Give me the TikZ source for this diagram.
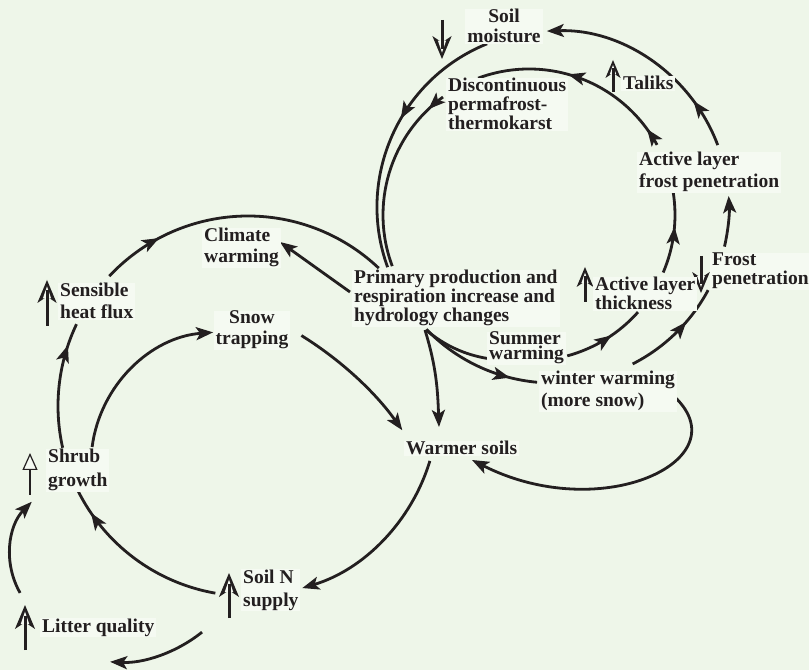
\documentclass[tikz,border=0pt]{standalone}
\usepackage{fontspec}
\setmainfont{Liberation Serif}
\usetikzlibrary{arrows.meta,decorations.markings,calc}
\definecolor{bgc}{RGB}{238,246,233}
\definecolor{boxc}{RGB}{245,250,242}
\definecolor{ink}{RGB}{35,31,32}
\newcommand\lblfont[1]{\bfseries\fontsize{19.5}{#1}\selectfont}
\pgfdeclarelayer{fg}
\pgfsetlayers{main,fg}
\tikzset{
  lbl/.style={font=\lblfont{#1}, text=ink, fill=boxc, inner xsep=2pt, inner ysep=0.4pt, align=left, anchor=base west},
  lbl/.default=20,
  conn/.style={draw=ink, line width=2.8pt},
  >={Stealth[length=17pt,width=13pt,inset=4pt]},
  midarr/.style={postaction={decorate}, decoration={markings, mark=at position #1 with {\arrow{>}}}},
  twomid/.style 2 args={postaction={decorate}, decoration={markings, mark=at position #1 with {\arrow{>}}, mark=at position #2 with {\arrow{>}}}},
  indthin/.style={draw=ink, line width=1.3pt, -{Triangle[length=17pt,width=15pt,fill=boxc,line width=1.2pt]}},
  pics/incr/.style 2 args={code={
    \fill[ink] (0,#1) -- (-0.42*#2,#1-#2) -- (0,#1-0.72*#2) -- (0.42*#2,#1-#2) -- cycle;
    \fill[boxc] (0,#1-0.28*#2) -- (-0.18*#2,#1-0.8*#2) -- (0.18*#2,#1-0.8*#2) -- cycle;
    \draw[ink, line width=3pt] (0,0) -- (0,#1-0.45*#2);
  }},
}
\begin{document}
\begin{tikzpicture}[x=1pt,y=1pt]
\fill[bgc] (0,0) rectangle (809,670);
\useasboundingbox (0,0) rectangle (809,670);

% ---------- labels (anchor = baseline of the last line) ----------
\begin{pgfonlayer}{fg}
\node[lbl=20, align=center, anchor=base] (soilm) at (504,627) {Soil\\moisture};
\node[lbl=19] (disc) at (446,540) {Discontinuous\\permafrost-\\thermokarst};
\node[lbl] (taliks) at (621,580) {Taliks};
\node[lbl=22] (alfp) at (637,482) {Active layer\\frost penetration};
\node[lbl=21] (clim) at (202,407) {Climate\\warming};
\node[lbl=22] (sens) at (58,351) {Sensible\\heat flux};
\node[lbl=21, align=center, anchor=base] (snow) at (252,325) {Snow\\trapping};
\node[lbl=19] (prim) at (352,348) {Primary production and\\respiration increase and\\hydrology changes};
\node[lbl=19] (alt) at (593,360) {Active layer\\thickness};
\node[lbl=19] (frost) at (710,385) {Frost\\penetration};
\node[lbl=15] (summ) at (487,310) {Summer\\warming};
\node[lbl=22] (wint) at (539,263) {winter warming\\(more snow)};
\node[lbl] (warm) at (404,215) {Warmer soils};
\node[lbl=24] (shrub) at (46,183) {Shrub\\growth};
\node[lbl=23] (soiln) at (241,64) {Soil N\\supply};
\node[lbl] (litter) at (40,38) {Litter quality};
\end{pgfonlayer}

% ---------- circle centres and free ends ----------
\coordinate (OC) at (553,463);
\coordinate (IC) at (529,455);
\coordinate (SC) at (507,434);
\coordinate (LC) at (248,264);
\coordinate (C1) at (223,206);
\coordinate (C2) at (117,37);
\coordinate (C5) at (86,115);
\coordinate (C6) at (117,144);
\coordinate (pw1) at (425,340);
\coordinate (pw2) at (439,243);
\coordinate (wl0) at (658,286);
\coordinate (wl1) at (760,220);
\coordinate (wl2) at (610,140);
\coordinate (wl3) at (472,210);
\coordinate (pc0) at (350,378);
\coordinate (pc1) at (280,428);

% ---------- outer right circle ----------
\draw[conn, midarr=0.43] ($(OC)+(112:176)$) arc[start angle=112, end angle=200, radius=176];
\draw[conn, ->, midarr=0.23] ($(OC)+(20.6:176)$) arc[start angle=20.6, end angle=92, radius=176];
\draw[conn, ->] ($(OC)+(-13:176)$) arc[start angle=-13, end angle=3.6, radius=176];
\draw[conn, midarr=0.64] ($(OC)+(-63.1:176)$) arc[start angle=-63.1, end angle=-28.2, radius=176];
\draw[conn, midarr=0.78] ($(OC)+(224:176)$) arc[start angle=224, end angle=264.8, radius=176];

% ---------- inner right circle ----------
\draw[conn, twomid={0.09}{0.56}] ($(IC)+(28.7:146)$) arc[start angle=28.7, end angle=110.4, radius=146];
\draw[conn, midarr=0.1] ($(IC)+(126.1:146)$) arc[start angle=126.1, end angle=200.5, radius=146];
\draw[conn, midarr=0.58] ($(IC)+(-23.2:146)$) arc[start angle=-23.2, end angle=8.7, radius=146];
\draw[conn, midarr=0.58] ($(IC)+(-74.8:146)$) arc[start angle=-74.8, end angle=-41.7, radius=146];
\draw[conn] ($(SC)+(229.6:124)$) arc[start angle=229.6, end angle=261.1, radius=124];

% ---------- left loop ----------
\draw[conn, midarr=0.21] ($(LC)+(136.9:190)$) arc[start angle=136.9, end angle=46.5, radius=190];
\draw[conn, midarr=0.82] ($(LC)+(192.7:190)$) arc[start angle=192.7, end angle=154.5, radius=190];
\draw[conn, ->] ($(LC)+(-16.8:190)$) arc[start angle=-16.8, end angle=-73.4, radius=190];
\draw[conn, midarr=0.85] ($(LC)+(260.1:190)$) arc[start angle=260.1, end angle=206.2, radius=190];
\draw[conn, ->] ($(C1)+(172.6:132)$) arc[start angle=172.6, end angle=94.3, radius=132];
\draw[conn, ->] ($(C2)+(58.2:350)$) arc[start angle=58.2, end angle=35.4, radius=350];
\draw[conn, ->] (pw1) to[out=-73, in=92] (pw2);
\draw[conn, ->] (wl0) .. controls (wl1) and (wl2) .. (wl3);
\draw[conn, ->] ($(C5)+(209.9:76)$) arc[start angle=209.9, end angle=135.5, radius=76];
\draw[conn, ->] ($(C6)+(-51.3:136)$) arc[start angle=-51.3, end angle=-92.9, radius=136];
\draw[conn, ->] (pc0) -- (pc1);

% ---------- increase / decrease marks ----------
\pic[rotate=180] at (442,650) {incr={39}{23}};
\pic at (613,578) {incr={32}{18}};
\pic at (47,344) {incr={46}{23}};
\pic at (585,368) {incr={35}{20}};
\pic[rotate=180] at (701,414) {incr={37}{21}};
\draw[indthin] (30,175) -- (30,217);
\pic at (229,52) {incr={45}{24}};
\pic at (25,20) {incr={45}{24}};
\end{tikzpicture}
\end{document}
